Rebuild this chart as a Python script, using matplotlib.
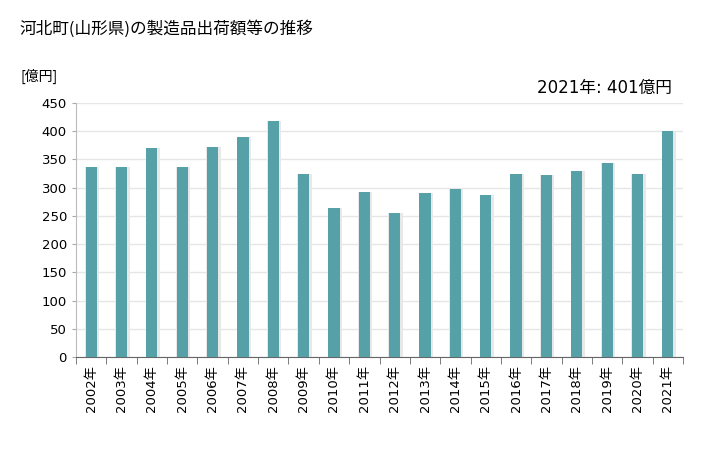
import numpy as np
import matplotlib.pyplot as plt

plt.rcParams['font.family'] = ['DejaVu Sans', 'Noto Sans CJK JP']

# --- データ ---
years = [str(y) + '年' for y in range(2002, 2022)]
values = [337, 337, 370, 337, 372, 390, 418, 324, 264, 292,
          255, 291, 298, 287, 324, 322, 330, 344, 324, 401]
yticks = list(range(0, 451, 50))

fig = plt.figure(figsize=(7.28, 4.5), dpi=100)
ax = fig.add_axes([76/728, 1 - 357/450, (683 - 76)/728, 254/450])

x = np.arange(len(years))
# 影
ax.bar(x + 0.03, values, width=0.47, color='#e8e8e8', zorder=2)
ax.bar(x, values, width=0.37, color='#56a1a7', zorder=3)

ax.set_xlim(-0.5, len(years) - 0.5)
ax.set_ylim(0, 450)
ax.set_yticks(yticks)
ax.set_xticks(x)
ax.set_xticklabels(years, rotation=90, fontsize=9.5)
ax.tick_params(axis='y', labelsize=9.5, length=3, color='#aaaaaa')
ax.set_xticks(np.arange(-0.5, len(years)), minor=True)
ax.tick_params(axis='x', which='major', length=0, pad=6)
ax.tick_params(axis='x', which='minor', length=5, color='#666666')

ax.grid(axis='y', color='#e6e6e6', linewidth=1, zorder=0)
ax.set_axisbelow(True)
for s in ['top', 'right']:
    ax.spines[s].set_visible(False)
ax.spines['left'].set_color('#bbbbbb')
ax.spines['left'].set_linestyle((0, (1, 1)))
ax.spines['bottom'].set_color('#666666')

fig.text(20/728, 1 - 29/450, '河北町(山形県)の製造品出荷額等の推移',
         family=['Noto Sans CJK JP', 'DejaVu Sans'], fontsize=12,
         va='center', ha='left')
fig.text(20/728, 1 - 76/450, '[億円]', family=['Noto Sans CJK JP'],
         fontsize=10, va='center', ha='left')
fig.text(672/728, 1 - 88/450, '2021年: 401億円', fontsize=12,
         va='center', ha='right')

fig.savefig('out.png', dpi=100)
